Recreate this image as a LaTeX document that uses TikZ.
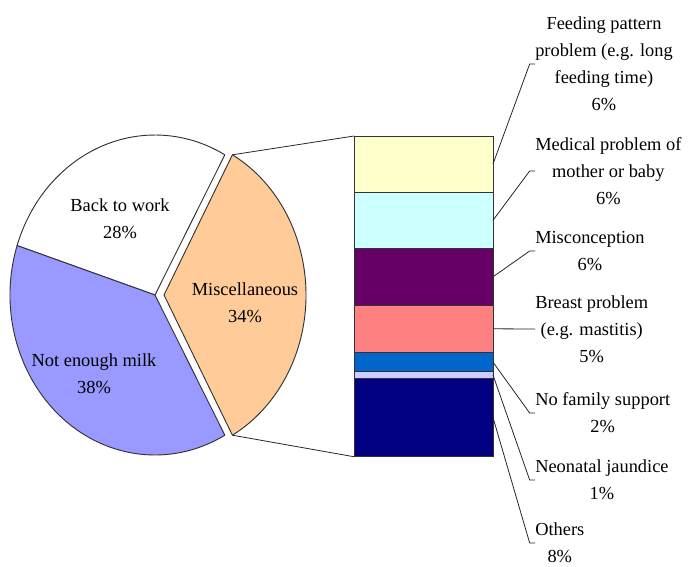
\documentclass[tikz,border=0pt]{standalone}
\usepackage{fontspec}
\setmainfont{Liberation Serif}
\usetikzlibrary{positioning}

\definecolor{milk}{HTML}{9999FF}
\definecolor{misc}{HTML}{FFCC99}
\definecolor{feedc}{HTML}{FFFFCC}
\definecolor{medc}{HTML}{CCFFFF}
\definecolor{mconc}{HTML}{660066}
\definecolor{breastc}{HTML}{FF8080}
\definecolor{famc}{HTML}{0066CC}
\definecolor{jaunc}{HTML}{CCCCFF}
\definecolor{othc}{HTML}{000080}
\definecolor{edge}{HTML}{333333}

\begin{document}
\begin{tikzpicture}[
  x=0.75pt, y=-0.75pt,
  every node/.style={font=\fontsize{13.8}{20.2}\selectfont},
  slice/.style = {draw=edge, line width=0.7pt, line join=round},
  seg/.style = {draw=edge, line width=0.7pt, minimum width=104.25pt, inner sep=0pt, outer sep=0pt},
  lab/.style = {anchor=west, align=center, inner sep=0pt},
  lead/.style = {draw=black!85, line width=0.6pt}
  ]
	\useasboundingbox (0,0) rectangle (689,567);

	\coordinate (@1) at (155,295);
	\coordinate (@2) at (164,295);

	\draw[slice, fill=white] (@1) -- ++(-61.2:145 and 160) arc[start angle=-61.2, end angle=-162, x radius=145, y radius=160] -- cycle;
	\draw[slice, fill=milk] (@1) -- ++(-162:145 and 160) arc[start angle=-162, end angle=-298.8, x radius=145, y radius=160] -- cycle;
	\draw[slice, fill=misc] (@2) -- ++(-61.2:142 and 160) coordinate (@3) arc[start angle=-61.2, end angle=61.2, x radius=142, y radius=160] coordinate (@4) -- cycle;

	\node[align=center] (bw) at (120,219) {Back to work\\28\%};
	\node[align=center] (nm) at (94,374) {Not enough milk\\38\%};
	\node[align=center] (mi) at (245,303) {Miscellaneous\\34\%};

	\node[seg, fill=feedc, minimum height=42pt, anchor=north] (feed) at (423.5,136) {};
	\node[seg, fill=medc, minimum height=42.4pt, below=0pt of feed] (med) {};
	\node[seg, fill=mconc, minimum height=42.4pt, below=0pt of med] (mcon) {};
	\node[seg, fill=breastc, minimum height=35.6pt, below=0pt of mcon] (breast) {};
	\node[seg, fill=famc, minimum height=14.4pt, below=0pt of breast] (fam) {};
	\node[seg, fill=jaunc, minimum height=4.95pt, below=0pt of fam] (jaun) {};
	\node[seg, fill=othc, minimum height=58.8pt, below=0pt of jaun] (oth) {};

	\draw[lead] (@3) -- (feed.north west);
	\draw[lead] (@4) -- (oth.south west);

	\node[lab] (l1) at (535,64) {Feeding pattern\\problem (e.g. long\\feeding time)\\6\%};
	\node[lab] (l2) at (535,171) {Medical problem of\\mother or baby\\6\%};
	\node[lab] (l3) at (535,251) {Misconception\\6\%};
	\node[lab] (l4) at (535,329) {Breast problem\\(e.g. mastitis)\\5\%};
	\node[lab] (l5) at (535,413) {No family support\\2\%};
	\node[lab] (l6) at (535,480) {Neonatal jaundice\\1\%};
	\node[lab] (l7) at (535,543) {Others\\8\%};

	\draw[lead] (feed.east) -- ([xshift=-4pt]l1.west) -- (l1.west);
	\draw[lead] (med.east) -- ([xshift=-4pt]l2.west) -- (l2.west);
	\draw[lead] (mcon.east) -- ([xshift=-4pt]l3.west) -- (l3.west);
	\draw[lead] (breast.east) -- (l4.west);
	\draw[lead] (fam.east) -- ([xshift=-4pt]l5.west) -- (l5.west);
	\draw[lead] (jaun.east) -- ([xshift=-4pt]l6.west) -- (l6.west);
	\draw[lead] (oth.east) -- ([xshift=-4pt]l7.west) -- (l7.west);

\end{tikzpicture}
\end{document}
